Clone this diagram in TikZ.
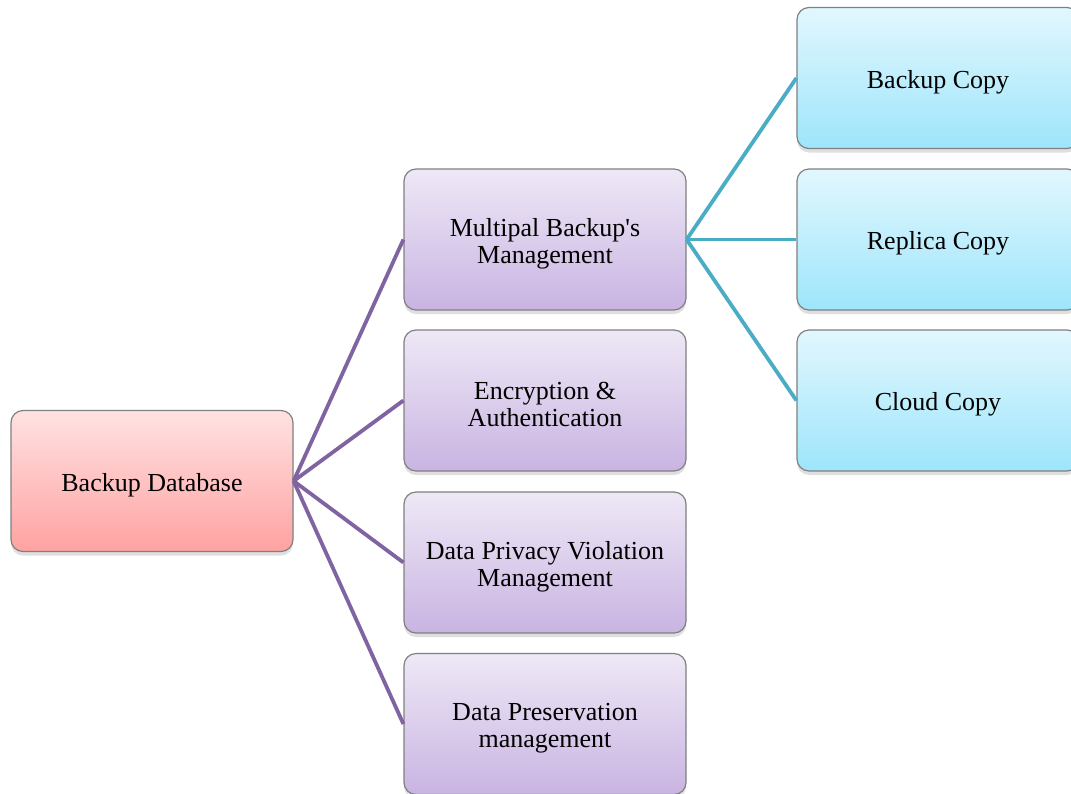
\documentclass[tikz,border=0pt]{standalone}
\usepackage{fontspec}
\setmainfont{Liberation Serif}
\usetikzlibrary{shadows}

\definecolor{rootTop}{HTML}{FFE2E2}
\definecolor{rootBot}{HTML}{FFA2A2}
\definecolor{midTop}{HTML}{EEE8F6}
\definecolor{midBot}{HTML}{C9B4E2}
\definecolor{leafTop}{HTML}{E2F7FE}
\definecolor{leafBot}{HTML}{9EE5FB}
\definecolor{boxline}{HTML}{808080}
\definecolor{purpleline}{HTML}{8064A2}
\definecolor{tealline}{HTML}{4BACC6}

\newcommand{\tstrut}{\rule{0pt}{26pt}}

\tikzset{
  box/.style={draw=boxline, line width=1.2pt, rounded corners=12pt,
    minimum width=282pt, minimum height=141pt, align=center,
    font=\fontsize{26}{27}\selectfont,
    drop shadow={shadow xshift=0pt, shadow yshift=-4pt, opacity=0.25}},
  rootbox/.style={box, top color=rootTop, bottom color=rootBot},
  midbox/.style={box, top color=midTop, bottom color=midBot},
  leafbox/.style={box, top color=leafTop, bottom color=leafBot},
  purplelink/.style={draw=purpleline, line width=3.8pt},
  teallink/.style={draw=tealline, line width=3.8pt}
}

\begin{document}
\begin{tikzpicture}[x=1pt, y=-1pt]
    \useasboundingbox (0,0) rectangle (1071,793);
    \clip (0,0) rectangle (1071,793);
    % Root
    \node[rootbox] (root) at (152, 481) {\tstrut Backup Database};
    % Second level
    \node[midbox] (multi) at (545, 239.5) {\tstrut Multipal Backup\textquotesingle s\\Management};
    \node[midbox] (encrypt) at (545, 400.5) {\tstrut Encryption \&\\Authentication};
    \node[midbox] (privacy) at (545, 562.5) {\tstrut Data Privacy Violation\\Management};
    \node[midbox] (preserve) at (545, 724) {\tstrut Data Preservation\\management};
    % Third level
    \node[leafbox] (backup) at (938, 78) {\tstrut Backup Copy};
    \node[leafbox] (replica) at (938, 239.5) {\tstrut Replica Copy};
    \node[leafbox] (cloud) at (938, 400.5) {\tstrut Cloud Copy};
    % Links
    \foreach \n in {multi, encrypt, privacy, preserve}
        \draw[purplelink] (root.east) -- (\n.west);
    \foreach \n in {backup, replica, cloud}
        \draw[teallink] (multi.east) -- (\n.west);
\end{tikzpicture}
\end{document}
